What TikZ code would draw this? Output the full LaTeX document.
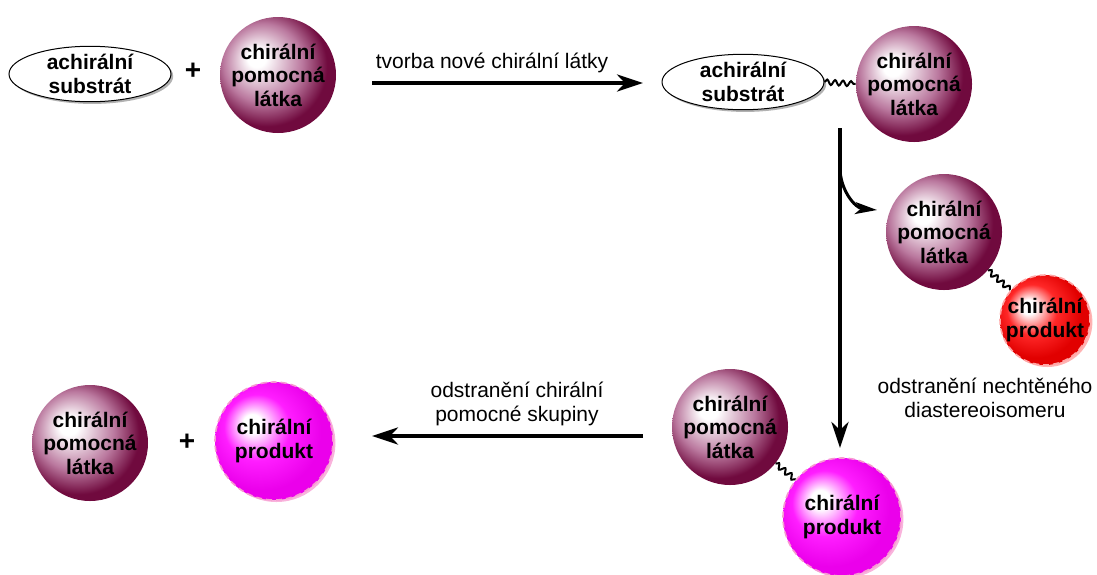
\documentclass[tikz,border=0pt]{standalone}
\usepackage{fontspec}
\setmainfont{Liberation Sans}
\usetikzlibrary{arrows.meta,shapes.geometric,shadows,decorations.pathmorphing}

\definecolor{auxmid}{RGB}{186,120,158}
\definecolor{auxdark}{RGB}{112,10,62}
\definecolor{prodred}{RGB}{255,40,40}
\definecolor{reddark}{RGB}{225,0,0}
\definecolor{prodmag}{RGB}{255,30,255}
\definecolor{magdark}{RGB}{235,0,235}

\pgfdeclareradialshading{auxball}{\pgfpoint{-10bp}{8bp}}{color(0bp)=(white); color(4bp)=(white); color(17bp)=(auxmid); color(26bp)=(auxdark); color(50bp)=(auxdark)}
\pgfdeclareradialshading{redball}{\pgfpoint{-10bp}{8bp}}{color(0bp)=(white); color(4bp)=(white); color(14bp)=(prodred); color(25bp)=(reddark); color(50bp)=(reddark)}
\pgfdeclareradialshading{magball}{\pgfpoint{-10bp}{8bp}}{color(0bp)=(white); color(4bp)=(white); color(14bp)=(prodmag); color(25bp)=(magdark); color(50bp)=(magdark)}

\tikzset{
  sphere/.style={circle, inner sep=0pt, align=center, shade,
    font=\bfseries\fontsize{10.5}{11.8}\selectfont},
  aux/.style={sphere, minimum size=58pt, shading=auxball},
  prodred/.style={sphere, minimum size=45pt, shading=redball,
    draw=red!35, densely dashed, line width=0.8pt,
    drop shadow={shadow xshift=1.2pt, shadow yshift=-1pt, fill=red!30, opacity=1}},
  prodmag/.style={sphere, minimum size=59pt, shading=magball,
    draw=magenta!40, densely dashed, line width=0.8pt,
    drop shadow={shadow xshift=1.2pt, shadow yshift=-1pt, fill=magenta!30, opacity=1}},
  subst/.style={ellipse, draw, fill=white, line width=0.5pt, inner sep=0pt,
    minimum width=81pt, minimum height=27.5pt, align=center,
    font=\bfseries\fontsize{10.5}{11.8}\selectfont,
    drop shadow={shadow xshift=1.1pt, shadow yshift=-1.1pt, fill=black!30, opacity=1}},
  wavy/.style={decorate, decoration={snake, amplitude=1.3pt, segment length=4pt}, line width=1pt},
  bigarrow/.style={line width=2pt, -{Stealth[length=13pt, width=8.5pt, inset=4pt]}},
  lbl/.style={align=center, font=\fontsize{10.5}{11.8}\selectfont},
  plus/.style={font=\bfseries\fontsize{14}{14}\selectfont}
}

\begin{document}
\begin{tikzpicture}[x=0.5pt, y=-0.5pt]
	\useasboundingbox (0,0) rectangle (1097,574);
	
	% top row
	\node[subst] (sub1) at (90,74) {achirální\\substrát};
	\node[plus] (plus1) at (193,71) {+};
	\node[aux] (aux1) at (278,75) {chirální\\pomocná\\látka};
	
	\coordinate (t1) at (372,83);
	\coordinate (t2) at (643,83);
	\draw[bigarrow] (t1) -- (t2);
	\node[lbl] (l1) at (492,63) {tvorba nové chirální látky};
	
	\node[subst] (sub2) at (743,82) {achirální\\substrát};
	\node[aux] (aux2) at (914,84) {chirální\\pomocná\\látka};
	\draw[wavy] (sub2.east) -- (aux2.west);
	
	% vertical arrow with branch
	\coordinate (v1) at (840,128);
	\coordinate (v2) at (840,448);
	\coordinate (b1) at (840,168);
	\coordinate (b2) at (877,210);
	\draw[bigarrow] (v1) -- (v2);
	\draw[line width=1.5pt, -{Stealth[length=11pt, width=6pt, inset=3pt]}] (b1) to[out=-90, in=175] (b2);
	
	\node[aux] (aux3) at (944,232) {chirální\\pomocná\\látka};
	\node[prodred] (red) at (1045,320) {chirální\\produkt};
	\draw[wavy] (aux3) -- (red);
	\node[lbl] (l3) at (985,398) {odstranění nechtěného\\diastereoisomeru};
	
	% bottom row
	\node[aux] (aux4) at (730,427) {chirální\\pomocná\\látka};
	\node[prodmag] (mag1) at (842,517) {chirální\\produkt};
	\draw[wavy] (aux4) -- (mag1);
	
	\coordinate (o1) at (643,436);
	\coordinate (o2) at (372,436);
	\draw[bigarrow] (o1) -- (o2);
	\node[lbl] (l2) at (517,404) {odstranění chirální\\pomocné skupiny};
	
	\node[aux] (aux5) at (90,443) {chirální\\pomocná\\látka};
	\node[plus] (plus2) at (187,442) {+};
	\node[prodmag] (mag2) at (274,441) {chirální\\produkt};
\end{tikzpicture}
\end{document}
